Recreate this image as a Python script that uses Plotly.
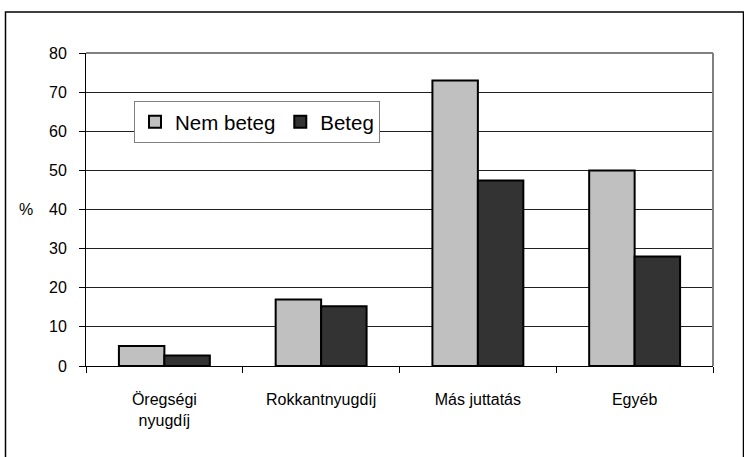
import plotly.graph_objects as go

categories = ["Öregségi<br>nyugdíj", "Rokkantnyugdíj", "Más juttatás", "Egyéb"]
nem_beteg = [5.1, 17.0, 73.0, 50.0]
beteg = [2.7, 15.3, 47.4, 28.0]
y_ticks = [0, 10, 20, 30, 40, 50, 60, 70, 80]

W, H = 744, 457
L, R, T, B = 86, 713, 53, 366
pw, ph = R - L, B - T

def px(x):
    return (x - L) / pw

def py(y):
    return (B - y) / ph

fig = go.Figure()
fig.add_trace(go.Bar(x=categories, y=nem_beteg, name="Nem beteg",
                     marker=dict(color="#c0c0c0", line=dict(color="#000000", width=2))))
fig.add_trace(go.Bar(x=categories, y=beteg, name="Beteg",
                     marker=dict(color="#333333", line=dict(color="#000000", width=2))))

font = "Liberation Sans, Arial, sans-serif"
fig.update_layout(
    width=W, height=H,
    margin=dict(l=L, r=W - R, t=T, b=H - B),
    paper_bgcolor="white", plot_bgcolor="white",
    barmode="group", bargap=0.42, bargroupgap=0,
    font=dict(family=font, size=15, color="#000000"),
    showlegend=True,
    legend=dict(orientation="h", x=px(134), y=py(101), xanchor="left", yanchor="top",
                bgcolor="white", bordercolor="#808080", borderwidth=1,
                font=dict(size=20.5, family=font), itemwidth=30,
                traceorder="normal", tracegroupgap=0),
    xaxis=dict(showline=True, linecolor="#000000", linewidth=1, ticks="outside",
               ticklen=6, tickcolor="#000000", tickson="boundaries",
               showgrid=False, tickfont=dict(size=16), ticklabelstandoff=19),
    yaxis=dict(range=[0, 80], tickvals=y_ticks, showline=True, linecolor="#000000",
               linewidth=1, ticks="outside", ticklen=6, tickcolor="#000000",
               showgrid=True, gridcolor="#202020", gridwidth=1,
               tickfont=dict(size=16), zeroline=False, ticklabelstandoff=9),
    shapes=[
        dict(type="line", xref="paper", yref="paper", x0=0, x1=1, y0=1, y1=1,
             line=dict(color="#808080", width=2)),
        dict(type="line", xref="paper", yref="paper", x0=1, x1=1, y0=0, y1=1,
             line=dict(color="#808080", width=2)),
        dict(type="rect", xref="paper", yref="paper", x0=px(5.5), x1=px(743.5),
             y0=py(480), y1=py(12), line=dict(color="#000000", width=1.5),
             fillcolor="rgba(0,0,0,0)", layer="above"),
    ],
    annotations=[
        dict(text="%", xref="paper", yref="y", x=px(35), y=40, xanchor="right",
             yanchor="middle", showarrow=False, font=dict(size=16, family=font)),
    ],
)

fig.write_html("out.html", config={"displayModeBar": False},
               post_script="document.body.style.margin='0';")
